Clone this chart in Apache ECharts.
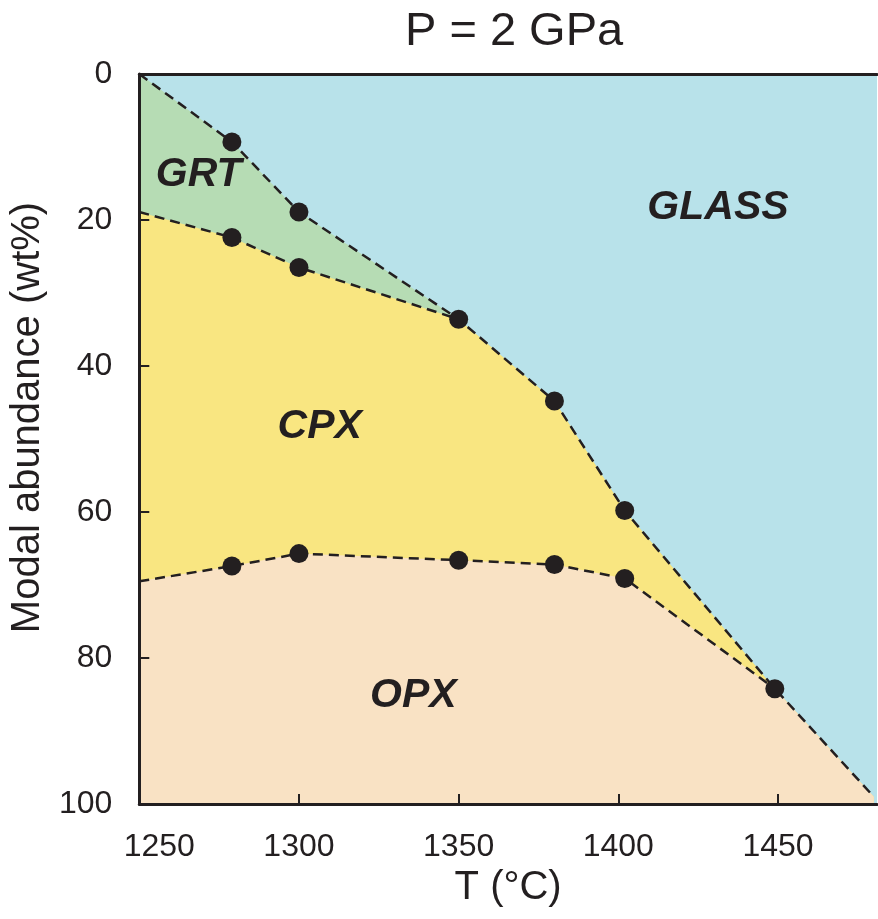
<!DOCTYPE html>
<html>
<head>
<meta charset="utf-8">
<script src="https://cdn.jsdelivr.net/npm/echarts@6/dist/echarts.min.js"></script>
<style>
  html, body { margin: 0; padding: 0; background: #ffffff; }
  #chart { width: 878px; height: 919px; }
</style>
</head>
<body>
<div id="chart"></div>
<script>
// ---- data (temperature in °C, modal abundance in wt%) ----
const glassT  = [1250, 1279, 1300, 1350, 1380, 1402, 1449, 1480];
const glassV  = [0, 9.3, 18.9, 33.6, 44.8, 59.8, 84.2, 99];
const grtCpxT = [1250, 1279, 1300, 1350];
const grtCpxV = [18.9, 22.4, 26.5, 33.6];
const cpxOpxT = [1250, 1279, 1300, 1350, 1380, 1402, 1449];
const cpxOpxV = [69.5, 67.4, 65.7, 66.6, 67.2, 69.1, 84.2];
// measured experiment points
const pointT  = [1279, 1300, 1350, 1380, 1402, 1449, 1279, 1300, 1279, 1300, 1350, 1380, 1402];
const pointV  = [9.3, 18.9, 33.6, 44.8, 59.8, 84.2, 22.4, 26.5, 67.4, 65.7, 66.6, 67.2, 69.1];
// phase field labels
const regionNames = ['GRT', 'GLASS', 'CPX', 'OPX'];
const regionT     = [1268.6, 1431.2, 1306.5, 1335.8];
const regionV     = [13.8, 18.3, 48.3, 85.1];
// axis ticks
const xTicks = [1250, 1300, 1350, 1400, 1450];
const yTicks = [0, 20, 40, 60, 80, 100];

const pairs = (t, v) => t.map((x, i) => [x, v[i]]);
const glassLine = pairs(glassT, glassV);
const grtCpxLine = pairs(grtCpxT, grtCpxV);
const cpxOpxLine = pairs(cpxOpxT, cpxOpxV);
// polygons: upper boundary of each field, continuing along the glass line
const cpxTop = grtCpxLine.concat(glassLine.filter(p => p[0] > grtCpxT[grtCpxT.length - 1]));
const opxTop = cpxOpxLine.concat(glassLine.filter(p => p[0] > cpxOpxT[cpxOpxT.length - 1]));

const INK = '#231f20';
const FONT = 'Liberation Sans, Arial, Helvetica, sans-serif';
const dash = { color: INK, width: 2.5, type: [10, 6] };

function areaSeries(name, data, color, z) {
  return {
    name, type: 'line', data, symbol: 'none', silent: true, z,
    lineStyle: { width: 0 },
    areaStyle: { color, opacity: 1, origin: 'end' }
  };
}
function dashSeries(name, data) {
  return { name, type: 'line', data, symbol: 'none', silent: true, z: 10, lineStyle: dash };
}

const chart = echarts.init(document.getElementById('chart'), null, { renderer: 'canvas' });
chart.setOption({
  backgroundColor: '#ffffff',
  animation: false,
  title: {
    text: 'P = 2 GPa', left: 405, top: 9, padding: 0,
    textStyle: { fontFamily: FONT, fontSize: 47, fontWeight: 'normal', color: INK }
  },
  grid: {
    left: 138, right: 1, top: 74, bottom: 115,
    show: true, backgroundColor: '#b8e2ea', borderWidth: 0
  },
  xAxis: [{
    type: 'value', min: xTicks[0], max: 1481, interval: 50, z: 50,
    name: 'T (°C)', nameLocation: 'middle', nameGap: 54,
    nameTextStyle: { fontFamily: FONT, fontSize: 40, color: INK },
    axisLine: { show: true, onZero: false, lineStyle: { color: INK, width: 3 } },
    axisTick: { show: true, inside: true, length: 10, lineStyle: { color: INK, width: 2 } },
    axisLabel: {
      fontFamily: FONT, fontSize: 32, color: INK, margin: 27, showMaxLabel: false,
      formatter: v => (v === xTicks[0] ? '{s|' + v + '}' : String(v)),
      rich: { s: { fontFamily: FONT, fontSize: 32, color: INK, padding: [0, 0, 0, 40] } }
    },
    splitLine: { show: false }
  }, {
    type: 'value', position: 'top', min: xTicks[0], max: 1481, z: 50,
    axisLine: { show: true, onZero: false, lineStyle: { color: INK, width: 3 } },
    axisTick: { show: false }, axisLabel: { show: false }, splitLine: { show: false }
  }],
  yAxis: {
    type: 'value', inverse: true, min: yTicks[0], max: yTicks[yTicks.length - 1], interval: 20, z: 50,
    name: 'Modal abundance (wt%)', nameLocation: 'middle', nameGap: 87,
    nameTextStyle: { fontFamily: FONT, fontSize: 40, color: INK, padding: [0, 0, 0, 43] },
    axisLine: { show: true, onZero: false, lineStyle: { color: INK, width: 3 } },
    axisTick: { show: true, inside: true, length: 10, lineStyle: { color: INK, width: 2 } },
    axisLabel: { fontFamily: FONT, fontSize: 32, color: INK, margin: 27 },
    splitLine: { show: false }
  },
  series: [
    areaSeries('GRT field', glassLine, '#b6dcb4', 1),
    areaSeries('CPX field', cpxTop, '#f9e681', 2),
    areaSeries('OPX field', opxTop, '#f9e2c4', 3),
    dashSeries('glass boundary', glassLine),
    dashSeries('grt-cpx boundary', grtCpxLine),
    dashSeries('cpx-opx boundary', cpxOpxLine),
    {
      name: 'experiments', type: 'scatter', z: 20, silent: true,
      data: pairs(pointT, pointV), symbol: 'circle', symbolSize: 19,
      itemStyle: { color: INK, opacity: 1 }
    },
    {
      name: 'fields', type: 'scatter', z: 30, silent: true, symbolSize: 0,
      itemStyle: { opacity: 1 },
      data: regionNames.map((n, i) => ({ name: n, value: [regionT[i], regionV[i]] })),
      label: {
        show: true, position: 'inside', formatter: p => p.name,
        fontFamily: FONT, fontSize: 41, fontWeight: 'bold', fontStyle: 'italic', color: INK
      }
    }
  ]
});
</script>
</body>
</html>
